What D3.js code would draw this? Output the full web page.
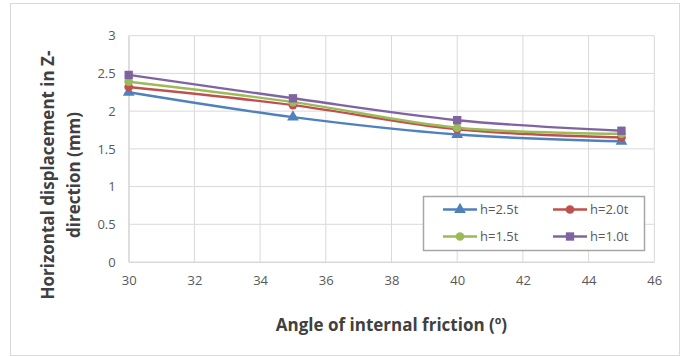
<!DOCTYPE html>
<html>
<head>
<meta charset="utf-8">
<script src="https://cdn.jsdelivr.net/npm/d3@7"></script>
<style>
  html, body { margin: 0; padding: 0; background: #fff; }
  svg { display: block; }
  text { font-family: "Open Sans", "Liberation Sans", sans-serif; }
</style>
</head>
<body>
<svg id="chart" width="685" height="356"></svg>
<script>
// Angle of internal friction (degrees)
const angles = [30, 35, 40, 45];

// Horizontal displacement in Z-direction (mm) for each embedment depth
const seriesNames = ["h=2.5t", "h=2.0t", "h=1.5t", "h=1.0t"];
const h25 = [2.25, 1.92, 1.69, 1.60];
const h20 = [2.32, 2.08, 1.76, 1.65];
const h15 = [2.39, 2.12, 1.78, 1.70];
const h10 = [2.48, 2.17, 1.88, 1.74];

const xTicks = [30, 32, 34, 36, 38, 40, 42, 44, 46];
const yTicks = [0, 0.5, 1, 1.5, 2, 2.5, 3];

const colors = ["#4F81BD", "#C0504D", "#9BBB59", "#8064A2"];
const markerTypes = [d3.symbolTriangle, d3.symbolCircle, d3.symbolCircle, d3.symbolSquare];
const markerSizes = [60, 60, 60, 70];

const series = [h25, h20, h15, h10].map((vals, i) => ({
  name: seriesNames[i],
  color: colors[i],
  symbol: markerTypes[i],
  size: markerSizes[i],
  points: angles.map((a, j) => ({ x: a, y: vals[j] }))
}));

const svg = d3.select("#chart");

// outer chart frame
svg.append("rect")
  .attr("x", 10.5).attr("y", 3.5)
  .attr("width", 669).attr("height", 352)
  .attr("fill", "#fff").attr("stroke", "#d9d9d9").attr("stroke-width", 1);

const plot = { left: 128.7, right: 654.3, top: 35.7, bottom: 262 };

const x = d3.scaleLinear().domain([30, 46]).range([plot.left, plot.right]);
const y = d3.scaleLinear().domain([0, 3]).range([plot.bottom, plot.top]);

// gridlines
const grid = svg.append("g");
grid.selectAll("line.h").data(yTicks).join("line")
  .attr("x1", plot.left).attr("x2", plot.right)
  .attr("y1", d => y(d)).attr("y2", d => y(d))
  .attr("stroke", "#d9d9d9").attr("stroke-width", 1);
grid.selectAll("line.v").data(xTicks).join("line")
  .attr("y1", plot.top).attr("y2", plot.bottom)
  .attr("x1", d => x(d)).attr("x2", d => x(d))
  .attr("stroke", "#d9d9d9").attr("stroke-width", 1);

// axes
const xAxis = svg.append("g")
  .attr("transform", `translate(0,${plot.bottom})`)
  .call(d3.axisBottom(x).tickValues(xTicks).tickSize(0).tickPadding(14).tickFormat(d3.format("d")));
const yAxis = svg.append("g")
  .attr("transform", `translate(${plot.left},0)`)
  .call(d3.axisLeft(y).tickValues(yTicks).tickSize(0).tickPadding(13).tickFormat(d => d));
[xAxis, yAxis].forEach(g => {
  g.select(".domain").attr("stroke", "#d9d9d9").attr("stroke-width", 1.2);
  g.selectAll("text").attr("fill", "#595959").attr("font-size", 13)
    .attr("font-family", "\"Open Sans\", \"Liberation Sans\", sans-serif");
});

// series lines
const line = d3.line().x(d => x(d.x)).y(d => y(d.y)).curve(d3.curveCatmullRom.alpha(0));
svg.append("g").selectAll("path").data(series).join("path")
  .attr("d", d => line(d.points))
  .attr("fill", "none")
  .attr("stroke", d => d.color)
  .attr("stroke-width", 2.4)
  .attr("stroke-linejoin", "round");

// series markers
series.forEach(s => {
  svg.append("g").selectAll("path").data(s.points).join("path")
    .attr("transform", d => `translate(${x(d.x)},${y(d.y)})`)
    .attr("d", d3.symbol().type(s.symbol).size(s.size))
    .attr("fill", s.color);
});

// legend
const legend = svg.append("g");
legend.append("rect")
  .attr("x", 423.5).attr("y", 196.5).attr("width", 221).attr("height", 54)
  .attr("fill", "#fff").attr("stroke", "#a6a6a6").attr("stroke-width", 1.5);
const legendPos = [
  { lx: 443, ty: 209.5 }, { lx: 553, ty: 209.5 },
  { lx: 443, ty: 236.5 }, { lx: 553, ty: 236.5 }
];
series.forEach((s, i) => {
  const p = legendPos[i];
  const g = legend.append("g");
  g.append("line")
    .attr("x1", p.lx).attr("x2", p.lx + 34)
    .attr("y1", p.ty).attr("y2", p.ty)
    .attr("stroke", s.color).attr("stroke-width", 2.4);
  g.append("path")
    .attr("transform", `translate(${p.lx + 17},${p.ty})`)
    .attr("d", d3.symbol().type(s.symbol).size(s.size))
    .attr("fill", s.color);
  g.append("text")
    .attr("x", p.lx + 37).attr("y", p.ty).attr("dy", "0.35em")
    .attr("font-size", 13).attr("fill", "#595959")
    .text(s.name);
});

// axis titles
svg.append("text")
  .attr("x", (plot.left + plot.right) / 2).attr("y", 331)
  .attr("text-anchor", "middle")
  .attr("font-size", 17).attr("font-weight", "bold").attr("fill", "#404040")
  .text("Angle of internal friction (º)");

const yTitle = svg.append("text")
  .attr("transform", "translate(0,175) rotate(-90)")
  .attr("text-anchor", "middle")
  .attr("font-size", 17).attr("font-weight", "bold").attr("fill", "#404040");
yTitle.append("tspan").attr("x", 0).attr("y", 54).text("Horizontal displacement in Z-");
yTitle.append("tspan").attr("x", 0).attr("y", 80).text("direction (mm)");
</script>
</body>
</html>
